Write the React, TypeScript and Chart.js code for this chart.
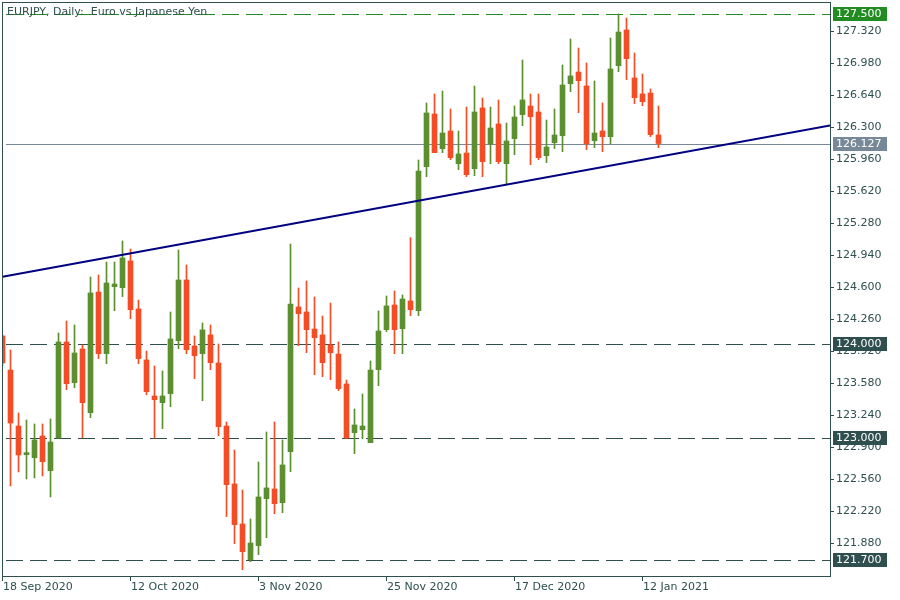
import React, { useEffect, useRef } from "react";
import { Chart, registerables } from "chart.js";

Chart.register(...registerables);

const chartTitle = "EURJPY, Daily:  Euro vs Japanese Yen";

const opens = [
  124.082, 123.72, 123.125, 122.82, 122.788, 123.019, 122.65, 122.998, 124.018, 123.586,
  123.944, 123.267, 124.549, 123.894, 124.606, 124.595, 124.879, 124.369, 123.827, 123.444,
  123.373, 123.469, 124.032, 124.677, 123.976, 123.894, 124.093, 123.795, 123.125, 122.509,
  122.084, 121.705, 121.853, 122.353, 122.456, 122.31, 122.852, 124.39, 124.337, 124.156,
  124.093, 123.986, 123.89, 123.572, 123.054, 123.086, 122.948, 123.724, 124.149, 124.411,
  124.159, 124.454, 124.351, 125.881, 126.441, 126.072, 126.26, 125.913, 126.026, 125.86,
  126.505, 126.122, 126.335, 125.913, 126.179, 126.434, 126.526, 126.462, 125.998, 126.136,
  126.21, 126.763, 126.887, 126.739, 126.157, 126.26, 126.2, 126.954, 127.334, 126.824,
  126.654, 126.664, 126.218,
];
const highs = [
  124.1, 123.933, 123.263, 123.189, 123.147, 123.147, 123.2, 124.114, 124.241, 124.199,
  123.986, 124.709, 124.73, 124.868, 124.868, 125.092, 125.006, 124.464, 123.922, 123.763,
  123.71, 124.337, 124.996, 124.836, 124.082, 124.22, 124.199, 123.997, 123.168, 122.87,
  122.445, 122.137, 122.743, 123.062, 123.168, 122.977, 125.059, 124.592, 124.666, 124.496,
  124.294, 124.432, 124.018, 123.614, 123.306, 123.465, 123.816, 124.348, 124.507, 124.56,
  124.518, 125.126, 125.952, 126.558, 126.654, 126.685, 126.494, 126.26, 126.515, 126.738,
  126.611, 126.515, 126.59, 126.345, 126.526, 127.015, 126.654, 126.654, 126.377, 126.494,
  126.962, 127.238, 127.142, 126.983, 126.792, 126.558, 127.249, 127.504, 127.461, 127.089,
  126.866, 126.707, 126.526,
];
const lows = [
  123.77, 122.488, 122.637, 122.562, 122.573, 122.594, 122.371, 122.998, 123.511, 123.532,
  122.998, 123.214, 123.841, 123.788, 124.351, 124.5, 124.266, 123.788, 123.458, 122.995,
  123.097, 123.331, 123.947, 123.894, 123.628, 123.394, 123.724, 123.022, 122.162, 121.875,
  121.598, 121.683, 121.758, 121.938, 122.193, 122.204, 122.64, 123.979, 123.904, 123.671,
  123.649, 123.617, 123.5, 122.99, 122.831, 122.99, 122.948, 123.554, 124.128, 123.894,
  123.894, 124.298, 124.298, 125.775, 126.03, 126.03, 125.955, 125.849, 125.775, 125.785,
  125.775, 125.913, 125.913, 125.7, 126.008, 126.317, 125.902, 125.955, 125.924, 126.072,
  126.04, 126.678, 126.455, 126.062, 126.083, 126.04, 126.125, 126.89, 126.806, 126.551,
  126.529, 126.2, 126.083,
];
const closes = [
  123.795, 123.157, 122.817, 122.842, 122.977, 122.746, 122.955, 124.018, 123.575, 123.901,
  123.373, 124.539, 123.894, 124.645, 124.634, 124.911, 124.361, 123.841, 123.49, 123.405,
  123.444, 124.05, 124.677, 123.936, 123.873, 124.146, 123.798, 123.118, 122.502, 122.077,
  121.79, 121.882, 122.371, 122.467, 122.3, 122.711, 124.422, 124.319, 124.149, 124.064,
  123.798, 123.904, 123.522, 122.998, 123.136, 123.125, 123.72, 124.135, 124.401, 124.149,
  124.475, 124.361, 125.835, 126.452, 126.03, 126.239, 125.977, 126.016, 125.796, 126.462,
  125.934, 126.292, 125.934, 126.154, 126.409, 126.59, 126.412, 125.977, 126.09, 126.218,
  126.749, 126.845, 126.795, 126.125, 126.239, 126.2, 126.919, 127.312, 127.029, 126.614,
  126.572, 126.221, 126.127,
];

const dateTickIndex = [0, 16, 32, 48, 64, 80];
const dateTickLabels = ["18 Sep 2020", "12 Oct 2020", "3 Nov 2020", "25 Nov 2020", "17 Dec 2020", "12 Jan 2021"];
const priceTicks = [
  121.88, 122.22, 122.56, 122.9, 123.24, 123.58, 123.92, 124.26, 124.6, 124.94,
  125.28, 125.62, 125.96, 126.3, 126.64, 126.98, 127.32,
];
const resistanceLevel = [127.5];
const supportLevels = [124.0, 123.0, 121.7];
const trendIndex = [0, 103.44];
const trendPrice = [124.712, 126.319];

const BULL = "#5b8f2f";
const BEAR = "#f44c24";
const INK = "#2f4f4f";
const LEVEL_GREEN = "#228b22";
const CUR_GREY = "#778899";
const FONT = "11px 'DejaVu Sans', sans-serif";

export default function App() {
  const ref = useRef<HTMLCanvasElement | null>(null);

  useEffect(() => {
    document.body.style.margin = "0";
    const canvas = ref.current;
    if (!canvas) return;
    const idx = opens.map((_, i) => i);
    const colors = idx.map((i) => (closes[i] >= opens[i] ? BULL : BEAR));
    const currentPrice = closes[closes.length - 1];

    const fmt = (v: number) => v.toFixed(3);

    const overlay = {
      id: "mtOverlay",
      beforeDatasetsDraw(chart: any) {
        const { ctx, chartArea, scales } = chart;
        const y = scales.y;
        ctx.save();
        ctx.lineWidth = 1;
        const drawLevel = (v: number, color: string, dash: number[]) => {
          const py = Math.round(y.getPixelForValue(v)) + 0.5;
          ctx.strokeStyle = color;
          ctx.setLineDash(dash);
          ctx.beginPath();
          ctx.moveTo(chartArea.left + 4, py);
          ctx.lineTo(chartArea.right, py);
          ctx.stroke();
        };
        resistanceLevel.forEach((v) => drawLevel(v, LEVEL_GREEN, [17, 7]));
        supportLevels.forEach((v) => drawLevel(v, INK, [17, 7]));
        drawLevel(currentPrice, CUR_GREY, []);
        ctx.restore();
      },
      afterDatasetsDraw(chart: any) {
        const { ctx, chartArea, scales } = chart;
        const x = scales.x;
        const y = scales.y;
        ctx.save();
        ctx.setLineDash([]);
        ctx.lineWidth = 1;
        ctx.strokeStyle = INK;
        // frame
        ctx.strokeRect(chartArea.left + 0.5, chartArea.top + 0.5, chartArea.right - chartArea.left, chartArea.bottom - chartArea.top);
        ctx.font = FONT;
        ctx.fillStyle = INK;
        // title
        ctx.textAlign = "left";
        ctx.textBaseline = "middle";
        ctx.fillText(chartTitle, 7, 12);
        // price ticks
        priceTicks.forEach((v) => {
          const py = Math.round(y.getPixelForValue(v)) + 0.5;
          ctx.beginPath();
          ctx.moveTo(chartArea.right + 1, py);
          ctx.lineTo(chartArea.right + 4, py);
          ctx.stroke();
          ctx.fillText(fmt(v), chartArea.right + 6, py);
        });
        // date ticks
        dateTickIndex.forEach((i, k) => {
          const px = Math.round(x.getPixelForValue(i) - 0.5) + 0.5;
          ctx.beginPath();
          ctx.moveTo(px, chartArea.bottom);
          ctx.lineTo(px, chartArea.bottom + 5);
          ctx.stroke();
          ctx.fillText(dateTickLabels[k], px + 0.5, chartArea.bottom + 11);
        });
        // price boxes
        const box = (v: number, fill: string) => {
          const py = Math.round(y.getPixelForValue(v));
          ctx.fillStyle = fill;
          ctx.fillRect(chartArea.right + 3, py - 7, 54, 14);
          ctx.fillStyle = "#ffffff";
          ctx.fillText(fmt(v), chartArea.right + 6, py + 0.5);
        };
        resistanceLevel.forEach((v) => box(v, LEVEL_GREEN));
        supportLevels.forEach((v) => box(v, INK));
        box(currentPrice, CUR_GREY);
        ctx.restore();
      },
    };

    const chart = new Chart(canvas, {
      type: "bar",
      data: {
        datasets: [
          {
            type: "bar",
            data: idx.map((i) => ({ x: i, y: [lows[i], highs[i]] })) as any,
            backgroundColor: colors,
            barThickness: 1,
            grouped: false,
            borderWidth: 0,
            order: 3,
          } as any,
          {
            type: "bar",
            data: idx.map((i) => ({ x: i, y: [opens[i], closes[i]] })) as any,
            backgroundColor: colors,
            barThickness: 5,
            minBarLength: 1,
            grouped: false,
            borderWidth: 0,
            order: 2,
          } as any,
          {
            type: "line",
            data: trendIndex.map((t, i) => ({ x: t, y: trendPrice[i] })) as any,
            borderColor: "#000080",
            borderWidth: 2,
            pointRadius: 0,
            fill: false,
            order: 1,
          } as any,
        ],
      },
      options: {
        animation: false,
        responsive: false,
        maintainAspectRatio: false,
        layout: { padding: { left: 2, top: 2, right: 70, bottom: 24 } },
        plugins: { legend: { display: false }, tooltip: { enabled: false } },
        scales: {
          x: { type: "linear", min: -0.0625, max: 103.4375, offset: false, display: false },
          y: { type: "linear", min: 121.531, max: 127.631, display: false },
        },
      },
      plugins: [overlay as any],
    });
    return () => chart.destroy();
  }, []);

  return (
    <div style={{ position: "absolute", left: 0, top: 0, width: 900, height: 600, background: "#fff" }}>
      <canvas ref={ref} width={900} height={600} style={{ width: 900, height: 600 }} />
    </div>
  );
}
